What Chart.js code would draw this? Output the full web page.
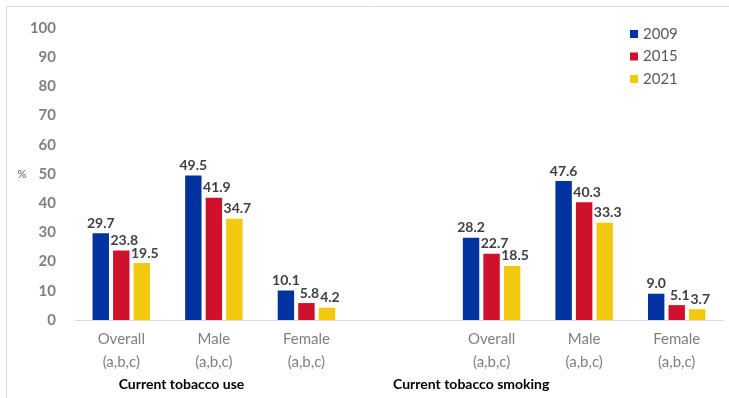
<!DOCTYPE html>
<html>
<head>
<meta charset="utf-8">
<script src="https://cdn.jsdelivr.net/npm/chart.js@4/dist/chart.umd.min.js"></script>
<style>
  html, body { margin: 0; padding: 0; background: #fff; }
  #wrap { position: relative; width: 729px; height: 398px; }
</style>
</head>
<body>
<div id="wrap"><canvas id="chart" width="729" height="398"></canvas></div>
<script>
// Prevalence (%) by sex, three survey years; the empty slot separates the two indicators
const categories = [
  ['Overall', '(a,b,c)'], ['Male', '(a,b,c)'], ['Female', '(a,b,c)'],
  '',
  ['Overall', '(a,b,c)'], ['Male', '(a,b,c)'], ['Female', '(a,b,c)']
];
const years = ['2009', '2015', '2021'];
const values2009 = [29.7, 49.5, 10.1, null, 28.2, 47.6, 9.0];
const values2015 = [23.8, 41.9, 5.8, null, 22.7, 40.3, 5.1];
const values2021 = [19.5, 34.7, 4.2, null, 18.5, 33.3, 3.7];
const yTicks = [0, 10, 20, 30, 40, 50, 60, 70, 80, 90, 100];
// indicator captions under the category labels, placed by category index
const groupLabels = [
  { text: 'Current tobacco use', at: 0.65 },
  { text: 'Current tobacco smoking', at: 3.78 }
];

const COLORS = ['#0033A0', '#D0112B', '#F2C811'];
const FONT = 'Lato, "Liberation Sans", sans-serif';

const extras = {
  id: 'extras',
  beforeDraw(chart) {
    const ctx = chart.ctx;
    ctx.save();
    // frame edges (left and top)
    ctx.strokeStyle = '#d9d9d9';
    ctx.lineWidth = 1;
    ctx.beginPath();
    ctx.moveTo(6.5, 400);
    ctx.lineTo(6.5, 6.5);
    ctx.lineTo(740, 6.5);
    ctx.stroke();
    ctx.restore();
  },
  afterDatasetsDraw(chart) {
    const ctx = chart.ctx;
    const x = chart.scales.x, y = chart.scales.y;
    ctx.save();

    // value labels above bars
    ctx.font = `bold 14px ${FONT}`;
    ctx.fillStyle = '#404040';
    ctx.textAlign = 'center';
    ctx.textBaseline = 'bottom';
    chart.data.datasets.forEach((ds, di) => {
      chart.getDatasetMeta(di).data.forEach((bar, i) => {
        const v = ds.data[i];
        if (v == null) return;
        ctx.fillText(v.toFixed(1), bar.x + (di ? 3 : 0), bar.y - 3);
      });
    });

    // "%" axis caption
    ctx.font = `11px ${FONT}`;
    ctx.fillStyle = '#595959';
    ctx.textBaseline = 'middle';
    ctx.fillText('%', 22, y.getPixelForValue(50));

    // indicator captions
    ctx.font = `bold 14px ${FONT}`;
    ctx.fillStyle = '#000';
    groupLabels.forEach(g => ctx.fillText(g.text, x.getPixelForValue(g.at), 384));

    // legend, stacked in the top-right corner
    ctx.font = `15px ${FONT}`;
    ctx.textAlign = 'left';
    chart.data.datasets.forEach((ds, di) => {
      const cy = 34 + di * 22.5;
      ctx.fillStyle = ds.backgroundColor;
      ctx.fillRect(630, cy - 4, 8, 8);
      ctx.fillStyle = '#595959';
      ctx.fillText(ds.label, 643, cy);
    });
    ctx.restore();
  }
};

new Chart(document.getElementById('chart'), {
  type: 'bar',
  data: {
    labels: categories,
    datasets: [values2009, values2015, values2021].map((d, i) => ({
      label: years[i],
      data: d,
      backgroundColor: COLORS[i],
      borderWidth: 0,
      categoryPercentage: 0.665,
      barPercentage: 0.8
    }))
  },
  options: {
    responsive: false,
    animation: false,
    layout: { padding: { top: 28, right: 6, left: 0, bottom: 0 } },
    plugins: { legend: { display: false }, tooltip: { enabled: false } },
    scales: {
      x: {
        grid: { display: false, drawTicks: false },
        border: { color: '#d9d9d9', width: 1 },
        ticks: {
          color: '#7f7f7f',
          font: { family: FONT, size: 15, lineHeight: 1.5 },
          padding: 8,
          autoSkip: false,
          maxRotation: 0
        },
        afterFit: s => { s.height = 78; }
      },
      y: {
        min: 0,
        max: 100,
        grid: { display: false, drawTicks: false },
        border: { display: false },
        afterBuildTicks: s => { s.ticks = yTicks.map(v => ({ value: v })); },
        ticks: {
          color: '#7f7f7f',
          font: { family: FONT, size: 15, weight: 'bold' },
          padding: 19
        },
        afterFit: s => { s.width = 75; }
      }
    }
  },
  plugins: [extras]
});
</script>
</body>
</html>
